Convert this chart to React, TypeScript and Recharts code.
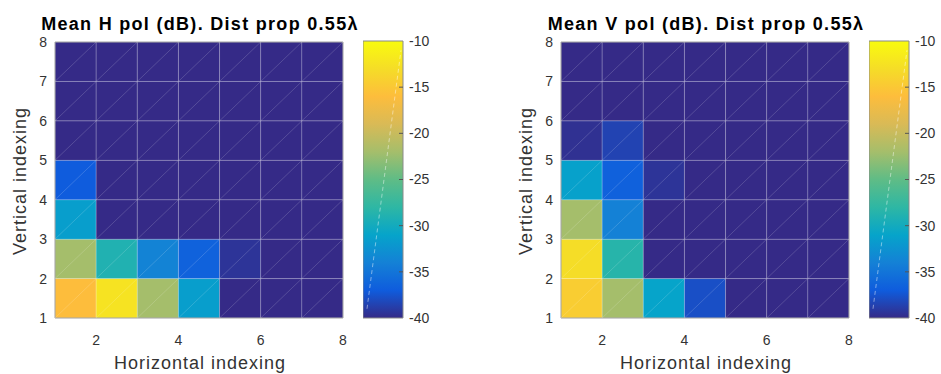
import { ComposedChart, XAxis, YAxis, ReferenceArea, ReferenceLine } from "recharts";

const X_TICKS = [2, 4, 6, 8];
const Y_TICKS = [1, 2, 3, 4, 5, 6, 7, 8];
const CBAR_TICKS = [-40, -35, -30, -25, -20, -15, -10];

// rows go from bottom (vertical index 1) upward, columns horizontal index 1..7
const H_POL = [
  [-16, -12.4, -22, -31.5, -40, -40, -40],
  [-22, -29, -33.8, -36.5, -39.4, -40, -40],
  [-31.5, -40, -40, -40, -40, -40, -40],
  [-37, -40, -40, -40, -40, -40, -40],
  [-40, -40, -40, -40, -40, -40, -40],
  [-40, -40, -40, -40, -40, -40, -40],
  [-40, -40, -40, -40, -40, -40, -40],
];

const V_POL = [
  [-14.5, -22, -31, -37.8, -40, -40, -40],
  [-13, -28.5, -40, -40, -40, -40, -40],
  [-22, -34, -40, -40, -40, -40, -40],
  [-31.3, -36.6, -39.4, -40, -40, -40, -40],
  [-39.6, -38.5, -40, -40, -40, -40, -40],
  [-40, -40, -40, -40, -40, -40, -40],
  [-40, -40, -40, -40, -40, -40, -40],
];

const PARULA = [
  "#352a87", "#0f5cdd", "#1481d6", "#06a4ca", "#2eb7a4", "#5fbc86",
  "#a5be6b", "#d9ba56", "#fdbd3c", "#f5dd27", "#f9fb0e",
];

const FONT = '"Liberation Sans", Arial, Helvetica, sans-serif';
const VMIN = -40;
const VMAX = -10;

function hexToRgb(h: string) {
  const n = parseInt(h.slice(1), 16);
  return [(n >> 16) & 255, (n >> 8) & 255, n & 255];
}

function parula(v: number) {
  const t = Math.min(1, Math.max(0, (v - VMIN) / (VMAX - VMIN)));
  const p = t * (PARULA.length - 1);
  const i = Math.min(PARULA.length - 2, Math.floor(p));
  const f = p - i;
  const a = hexToRgb(PARULA[i]);
  const b = hexToRgb(PARULA[i + 1]);
  const c = a.map((ch, k) => Math.round(ch + (b[k] - ch) * f));
  return `rgb(${c[0]},${c[1]},${c[2]})`;
}

const tickStyle = { fill: "#333", fontSize: 14, fontFamily: FONT };

function Heatmap({ values }: { values: number[][] }) {
  const cells = values.flatMap((row, r) =>
    row.map((v, c) => ({ x: c + 1, y: r + 1, v }))
  );
  const diagonals = [-6, -5, -4, -3, -2, -1, 0, 1, 2, 3, 4, 5, 6].map((k) => {
    const sx = Math.max(1, 1 - k);
    const ex = Math.min(8, 8 - k);
    return { k, seg: [{ x: sx, y: sx + k }, { x: ex, y: ex + k }] };
  });

  return (
    <ComposedChart
      width={420}
      height={374}
      data={cells}
      margin={{ top: 42, right: 77, bottom: 26, left: 15 }}
    >
      <XAxis
        type="number"
        dataKey="x"
        domain={[1, 8]}
        ticks={X_TICKS}
        height={30}
        tickSize={0}
        tickMargin={17}
        axisLine={false}
        tick={tickStyle}
        allowDataOverflow
      />
      <YAxis
        type="number"
        dataKey="y"
        domain={[1, 8]}
        ticks={Y_TICKS}
        width={40}
        tickSize={0}
        tickMargin={8}
        axisLine={false}
        tick={tickStyle}
        allowDataOverflow
      />
      {cells.map((c) => (
        <ReferenceArea
          key={`${c.x}-${c.y}`}
          x1={c.x}
          x2={c.x + 1}
          y1={c.y}
          y2={c.y + 1}
          fill={parula(c.v)}
          fillOpacity={1}
          stroke="rgba(255,255,255,0.18)"
          strokeWidth={1}
        />
      ))}
      {diagonals.map((d) => (
        <ReferenceLine
          key={`d${d.k}`}
          segment={d.seg}
          stroke="rgba(255,255,255,0.16)"
          strokeWidth={1}
        />
      ))}
      <ReferenceArea
        x1={1}
        x2={8}
        y1={1}
        y2={8}
        fill="none"
        stroke="#a0a0a0"
        strokeWidth={1}
      />
    </ComposedChart>
  );
}

function Colorbar({ id }: { id: string }) {
  return (
    <ComposedChart
      width={90}
      height={374}
      data={[{ x: 0, y: VMIN }, { x: 1, y: VMAX }]}
      margin={{ top: 41, right: 0, bottom: 56, left: 0 }}
    >
      <defs>
        <linearGradient id={id} x1="0" y1="1" x2="0" y2="0">
          {PARULA.map((c, i) => (
            <stop key={i} offset={`${(i / (PARULA.length - 1)) * 100}%`} stopColor={c} />
          ))}
        </linearGradient>
      </defs>
      <XAxis type="number" dataKey="x" domain={[0, 1]} hide />
      <YAxis
        type="number"
        dataKey="y"
        orientation="right"
        domain={[VMIN, VMAX]}
        ticks={CBAR_TICKS}
        width={50}
        tickSize={0}
        tickMargin={6}
        axisLine={false}
        tick={tickStyle}
      />
      <ReferenceArea
        x1={0}
        x2={1}
        y1={VMIN}
        y2={VMAX}
        fill={`url(#${id})`}
        fillOpacity={1}
        stroke="#8a8a8a"
      />
      <ReferenceLine
        segment={[{ x: 0.1, y: -39 }, { x: 0.95, y: -11 }]}
        stroke="rgba(255,255,255,0.45)"
        strokeDasharray="4 3"
      />
      {CBAR_TICKS.slice(1, -1).map((t) => (
        <ReferenceLine
          key={t}
          segment={[{ x: 0.9, y: t }, { x: 1, y: t }]}
          stroke="#555"
        />
      ))}
    </ComposedChart>
  );
}

function Panel({ left, title, values, id }: { left: number; title: string; values: number[][]; id: string }) {
  return (
    <div style={{ position: "absolute", left, top: 0, width: 470, height: 374 }}>
      <div
        style={{
          position: "absolute",
          left: 0,
          top: 13,
          width: 400,
          textAlign: "center",
          fontFamily: FONT,
          fontWeight: "bold",
          fontSize: 18,
          letterSpacing: "1.3px",
          lineHeight: "22px",
          color: "#000",
          whiteSpace: "nowrap",
        }}
      >
        {title}
      </div>
      <div style={{ position: "absolute", left: 0, top: 0 }}>
        <Heatmap values={values} />
      </div>
      <div style={{ position: "absolute", left: 363, top: 0 }}>
        <Colorbar id={id} />
      </div>
      <div
        style={{
          position: "absolute",
          left: 55,
          width: 290,
          top: 352,
          textAlign: "center",
          fontFamily: FONT,
          fontSize: 18,
          letterSpacing: "1px",
          lineHeight: "22px",
          color: "#333",
          whiteSpace: "nowrap",
        }}
      >
        Horizontal indexing
      </div>
      <div
        style={{
          position: "absolute",
          left: 20,
          top: 181,
          transform: "translate(-50%, -50%) rotate(-90deg)",
          fontFamily: FONT,
          fontSize: 18,
          letterSpacing: "1px",
          lineHeight: "22px",
          color: "#333",
          whiteSpace: "nowrap",
        }}
      >
        Vertical indexing
      </div>
    </div>
  );
}

export default function App() {
  return (
    <div style={{ position: "absolute", left: 0, top: 0, width: 941, height: 374, background: "#fff", overflow: "hidden" }}>
      <Panel left={0} title="Mean H pol (dB). Dist prop 0.55λ" values={H_POL} id="cbarH" />
      <Panel left={506} title="Mean V pol (dB). Dist prop 0.55λ" values={V_POL} id="cbarV" />
    </div>
  );
}
